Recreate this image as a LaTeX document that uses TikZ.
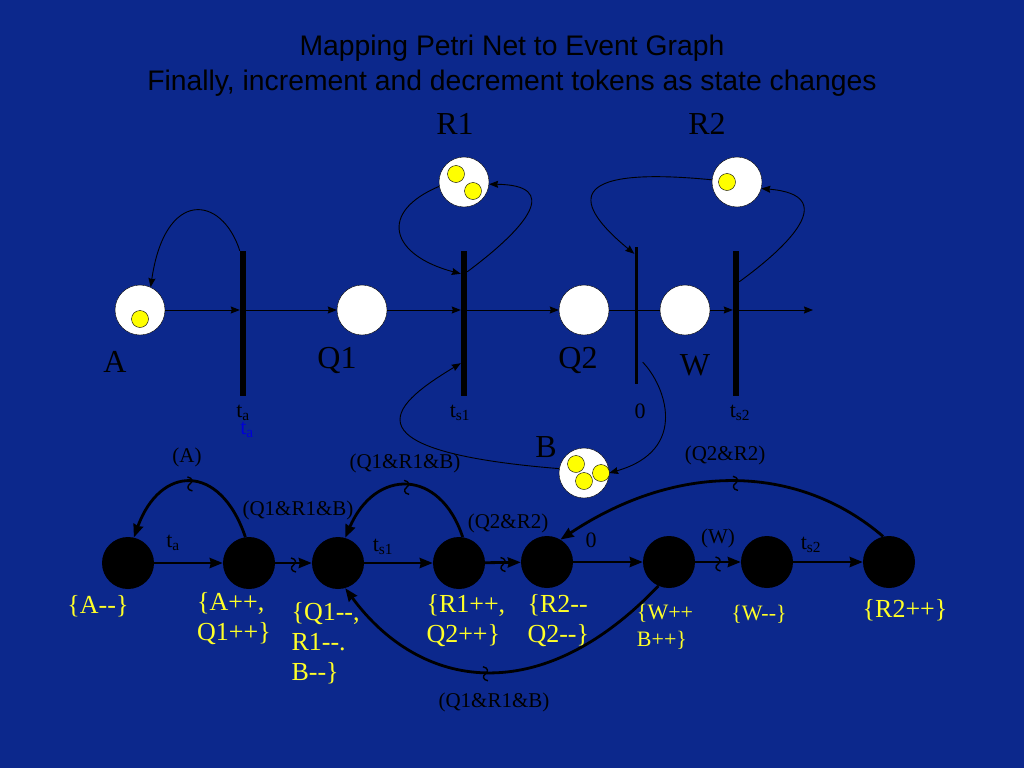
\documentclass[tikz,border=0pt]{standalone}
\usepackage{fontspec}
\setmainfont{Liberation Serif}[Ligatures=TeXOff]
\newfontfamily\titlefont{Liberation Sans}
\usetikzlibrary{arrows.meta}
\definecolor{slide}{RGB}{12,40,140}
\definecolor{tokyellow}{RGB}{255,255,0}
\definecolor{evtext}{RGB}{255,255,40}
\definecolor{ghost}{RGB}{0,0,215}

\begin{document}
\begin{tikzpicture}[x=1pt,y=-1pt,
    place/.style={circle,draw=black,fill=white,minimum size=50pt,inner sep=0pt},
    token/.style={circle,draw=black,fill=tokyellow,minimum size=17pt,inner sep=0pt},
    bar/.style={fill=black,inner sep=0pt,minimum width=6pt,minimum height=145pt},
    event/.style={circle,fill=black,minimum size=52pt,inner sep=0pt},
    pnarc/.style={-{Stealth[length=9pt,width=7pt,inset=1pt]},line width=0.9pt},
    egarc/.style={-{Stealth[length=13pt,width=10pt,inset=1pt]},line width=2.8pt},
    big/.style={font=\fontsize{32}{36}\selectfont},
    tlab/.style={font=\fontsize{22}{24}\selectfont},
    cond/.style={font=\fontsize{21}{24}\selectfont},
    wig/.pic={\draw[line width=1.4pt] (-2.5,-7) .. controls (3,-6) and (3,-2) .. (0,0) .. controls (-3,2) and (-3,6) .. (2.5,7);},
    evstate/.style={text=evtext,align=left,font=\fontsize{26}{30}\selectfont},
    titletext/.style={font=\titlefont\fontsize{28.3}{32}\selectfont}]
            \fill[slide] (0,0) rectangle (1024,768);
            \node[titletext] (title1) at (512,48) {Mapping Petri Net to Event Graph};
            \node[titletext] (title2) at (512,83) {Finally, increment and decrement tokens as state changes};

            % petri net
            \node[place] (A) at (140,310) {};
            \node[place] (Q1) at (362,310) {};
            \node[place] (R1) at (464,182) {};
            \node[place] (Q2) at (584,310) {};
            \node[place] (W) at (685,310) {};
            \node[place] (R2) at (737,182) {};
            \node[place] (B) at (584,473) {};
            \node[token] (tokA) at (140,319) {};
            \node[token] (tokR1a) at (456,174) {};
            \node[token] (tokR1b) at (473,191) {};
            \node[token] (tokR2) at (727,182) {};
            \node[token] (tokBa) at (576,464) {};
            \node[token] (tokBb) at (601,473) {};
            \node[token] (tokBc) at (584,481) {};
            \node[big] (lA) at (115,362) {A};
            \node[big] (lQ1) at (337,360) {Q1};
            \node[big] (lR1) at (455,124) {R1};
            \node[big] (lQ2) at (578,360) {Q2};
            \node[big] (lW) at (695,365) {W};
            \node[big] (lR2) at (707,124) {R2};
            \node[big] (lB) at (546,447) {B};

            \node[bar] (ta) at (243,323.5) {};
            \node[bar] (ts1) at (464,323.5) {};
            \node[bar,minimum width=3pt,minimum height=137pt] (zero) at (636,315.5) {};
            \node[bar] (ts2) at (736,323.5) {};
            \node[tlab] (lta) at (243,413) {t\textsubscript{a}};
            \node[tlab,text=ghost] (ltab) at (247,430) {t\textsubscript{a}};
            \node[tlab] (lts1) at (460,413) {t\textsubscript{s1}};
            \node[tlab] (lzero) at (640,411) {0};
            \node[tlab] (lts2) at (740,413) {t\textsubscript{s2}};
            \coordinate (out) at (813,310);

            \draw[pnarc] (A) -- (A -| ta.west);
            \draw[pnarc] (A -| ta.east) -- (Q1);
            \draw[pnarc] (Q1) -- (Q1 -| ts1.west);
            \draw[pnarc] (Q1 -| ts1.east) -- (Q2);
            \draw[line width=0.9pt] (Q2) -- (W);
            \draw[pnarc] (W) -- (W -| ts2.west);
            \draw[pnarc] (W -| ts2.east) -- (out);
            \draw[pnarc] (ta.north west) .. controls (222,195) and (165,188) .. (A.65);
            \draw[pnarc] (R1.190) .. controls (378,212) and (390,255) .. ([yshift=-23pt]ts1.north west);
            \draw[pnarc] ([yshift=-21pt]ts1.north east) .. controls (530,225) and (560,185) .. (R1.-5);
            \draw[pnarc] (R2.175) .. controls (560,165) and (575,205) .. ([yshift=-7pt]zero.north west);
            \draw[pnarc] ([yshift=-31pt]ts2.north east) .. controls (790,245) and (840,195) .. (R2.-15);
            \draw[pnarc] ([xshift=5pt,yshift=22pt]zero.south east) .. controls (665,385) and (690,450) .. (B.east);
            \draw[pnarc] (B.170) .. controls (330,450) and (400,400) .. ([yshift=33pt]ts1.south west);

            % event graph
            \node[event] (ev1) at (128,563) {};
            \node[event] (ev2) at (249,563) {};
            \node[event] (ev3) at (338,563) {};
            \node[event] (ev4) at (459,563) {};
            \node[event] (ev5) at (547,562) {};
            \node[event] (ev6) at (669,562) {};
            \node[event] (ev7) at (767,562) {};
            \node[event] (ev8) at (889,562) {};

            \draw[egarc] (ev1) -- (ev2);
            \draw[egarc] (ev2) -- (ev3) coordinate[midway] (w1);
            \draw[egarc] (ev2.98) .. controls (220,462) and (160,465) .. (ev1.77) coordinate[pos=.5] (w2);
            \draw[egarc] (ev3) -- (ev4);
            \draw[egarc] (ev4.82) .. controls (440,468) and (375,468) .. (ev3.74) coordinate[pos=.5] (w3);
            \draw[egarc] (ev4) -- (ev5) coordinate[midway] (w4);
            \draw[egarc] (ev5) -- (ev6);
            \draw[egarc] (ev6.246) .. controls (540,710) and (420,690) .. (ev3.-74) coordinate[pos=.5] (w5);
            \draw[egarc] (ev6) -- (ev7) coordinate[midway] (w6);
            \draw[egarc] (ev7) -- (ev8);
            \draw[egarc] (ev8.103) .. controls (800,465) and (680,460) .. (ev5.59) coordinate[pos=.5] (w7);
            \foreach \w in {w1,w2,w3,w4,w5,w6,w7}
                \pic at ([yshift=-2pt]\w) {wig};

            \node[tlab] (ea) at (173,543) {t\textsubscript{a}};
            \node[tlab] (es1) at (383,547) {t\textsubscript{s1}};
            \node[tlab] (ezero) at (591,540) {0};
            \node[tlab] (es2) at (811,545) {t\textsubscript{s2}};
            \node[cond] (cA) at (187,457) {(A)};
            \node[cond] (cQRBa) at (298,510) {(Q1\&R1\&B)};
            \node[cond] (cQRBb) at (405,463) {(Q1\&R1\&B)};
            \node[cond] (cQRa) at (508,523) {(Q2\&R2)};
            \node[cond] (cQRb) at (725,455) {(Q2\&R2)};
            \node[cond] (cW) at (718,538) {(W)};
            \node[cond] (cQRBc) at (494,702) {(Q1\&R1\&B)};

            \node[evstate] (s1) at (98,606) {\{A--\}};
            \node[evstate] (s2) at (234,619) {\{A++,\\Q1++\}};
            \node[evstate,anchor=west] (s3) at (288,643) {\{Q1--,\\R1--.\\B--\}};
            \node[evstate,anchor=west] (s4) at (423,621) {\{R1++,\\Q2++\}};
            \node[evstate,anchor=west] (s5) at (524,621) {\{R2--\\Q2--\}};
            \node[evstate,font=\fontsize{22}{27}\selectfont] (s6) at (665,627) {\{W++\\B++\}};
            \node[evstate,font=\fontsize{22}{27}\selectfont] (s7) at (759,614) {\{W--\}};
            \node[evstate] (s8) at (905,610) {\{R2++\}};
        \end{tikzpicture}
\end{document}
